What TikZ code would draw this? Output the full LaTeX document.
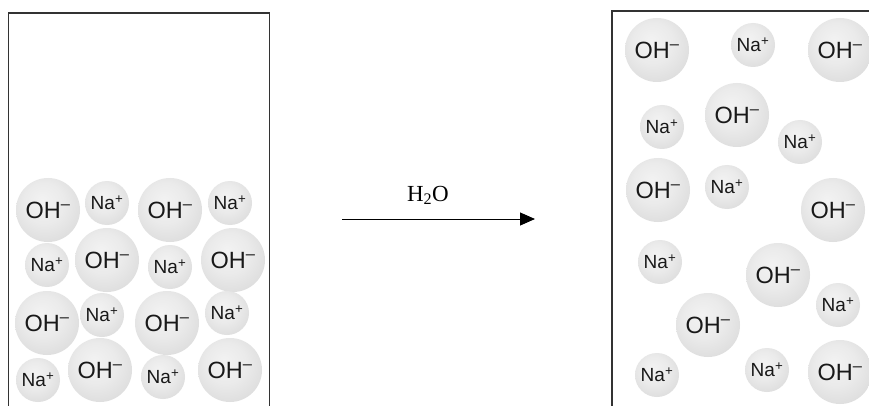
\documentclass[tikz,border=0pt]{standalone}
\usepackage{fontspec}
\setmainfont{Liberation Serif}
\setsansfont{Liberation Sans}
\usetikzlibrary{arrows.meta}

% soft grey sphere used for every ion
\pgfdeclareradialshading{ionball}{\pgfpoint{-5bp}{8bp}}{%
  color(0bp)=(black!5); color(16bp)=(black!8); color(32bp)=(black!14);
  color(44bp)=(black!21); color(50bp)=(black!18)}

\newcommand{\chg}[1]{\textsuperscript{#1}}

\tikzset{
  ion/.style={circle, inner sep=0pt, shading=ionball, text=black!90},
  hydroxide/.style={ion, minimum size=64pt, font=\sffamily\fontsize{23.5}{23.5}\selectfont},
  sodium/.style={ion, minimum size=44pt, font=\sffamily\fontsize{19}{19}\selectfont},
  beaker/.style={draw=black!80, line width=1.6pt},
  reaction/.style={line width=1pt, -{Triangle[length=15pt,width=13pt]}},
  solvent/.style={font=\fontsize{23}{23}\selectfont}
}

\begin{document}
\begin{tikzpicture}[x=1pt, y=-1pt]
\useasboundingbox (0,0) rectangle (869,406);
\clip (0,0) rectangle (869,406);
\fill[white] (0,0) rectangle (869,406);

% containers (open at the bottom edge)
\draw[beaker] (8.5,410) -- (8.5,13) -- (269.5,13) -- (269.5,410);
\draw[beaker] (612,410) -- (612,11) -- (875,11);

% solid NaOH: packed lattice
\node[hydroxide] (L1)  at (48,210)  {OH\chg{–}};
\node[sodium]    (L2)  at (107,203) {Na\chg{+}};
\node[hydroxide] (L3)  at (170,210) {OH\chg{–}};
\node[sodium]    (L4)  at (230,203) {Na\chg{+}};
\node[sodium]    (L5)  at (47,265)  {Na\chg{+}};
\node[hydroxide] (L6)  at (107,260) {OH\chg{–}};
\node[sodium]    (L7)  at (170,267) {Na\chg{+}};
\node[hydroxide] (L8)  at (233,260) {OH\chg{–}};
\node[hydroxide] (L9)  at (47,323)  {OH\chg{–}};
\node[sodium]    (L10) at (102,315) {Na\chg{+}};
\node[hydroxide] (L11) at (167,323) {OH\chg{–}};
\node[sodium]    (L12) at (227,313) {Na\chg{+}};
\node[sodium]    (L13) at (38,380)  {Na\chg{+}};
\node[hydroxide] (L14) at (100,370) {OH\chg{–}};
\node[sodium]    (L15) at (163,377) {Na\chg{+}};
\node[hydroxide] (L16) at (230,370) {OH\chg{–}};

% dissolving in water
\coordinate (feed) at (342,219);
\coordinate (product) at (535,219);
\draw[reaction] (feed) -- node[solvent, pos=0.445, anchor=base, yshift=18pt] (water) {H\textsubscript{2}O} (product);

% solution: dispersed ions
\node[hydroxide] (R1)  at (657,50)  {OH\chg{–}};
\node[sodium]    (R2)  at (753,45)  {Na\chg{+}};
\node[hydroxide] (R3)  at (840,50)  {OH\chg{–}};
\node[sodium]    (R4)  at (662,127) {Na\chg{+}};
\node[hydroxide] (R5)  at (737,115) {OH\chg{–}};
\node[sodium]    (R6)  at (800,142) {Na\chg{+}};
\node[hydroxide] (R7)  at (658,190) {OH\chg{–}};
\node[sodium]    (R8)  at (727,187) {Na\chg{+}};
\node[hydroxide] (R9)  at (833,210) {OH\chg{–}};
\node[sodium]    (R10) at (660,262) {Na\chg{+}};
\node[hydroxide] (R11) at (778,275) {OH\chg{–}};
\node[sodium]    (R12) at (838,305) {Na\chg{+}};
\node[hydroxide] (R13) at (708,325) {OH\chg{–}};
\node[sodium]    (R14) at (657,375) {Na\chg{+}};
\node[sodium]    (R15) at (767,370) {Na\chg{+}};
\node[hydroxide] (R16) at (840,372) {OH\chg{–}};
\end{tikzpicture}
\end{document}
